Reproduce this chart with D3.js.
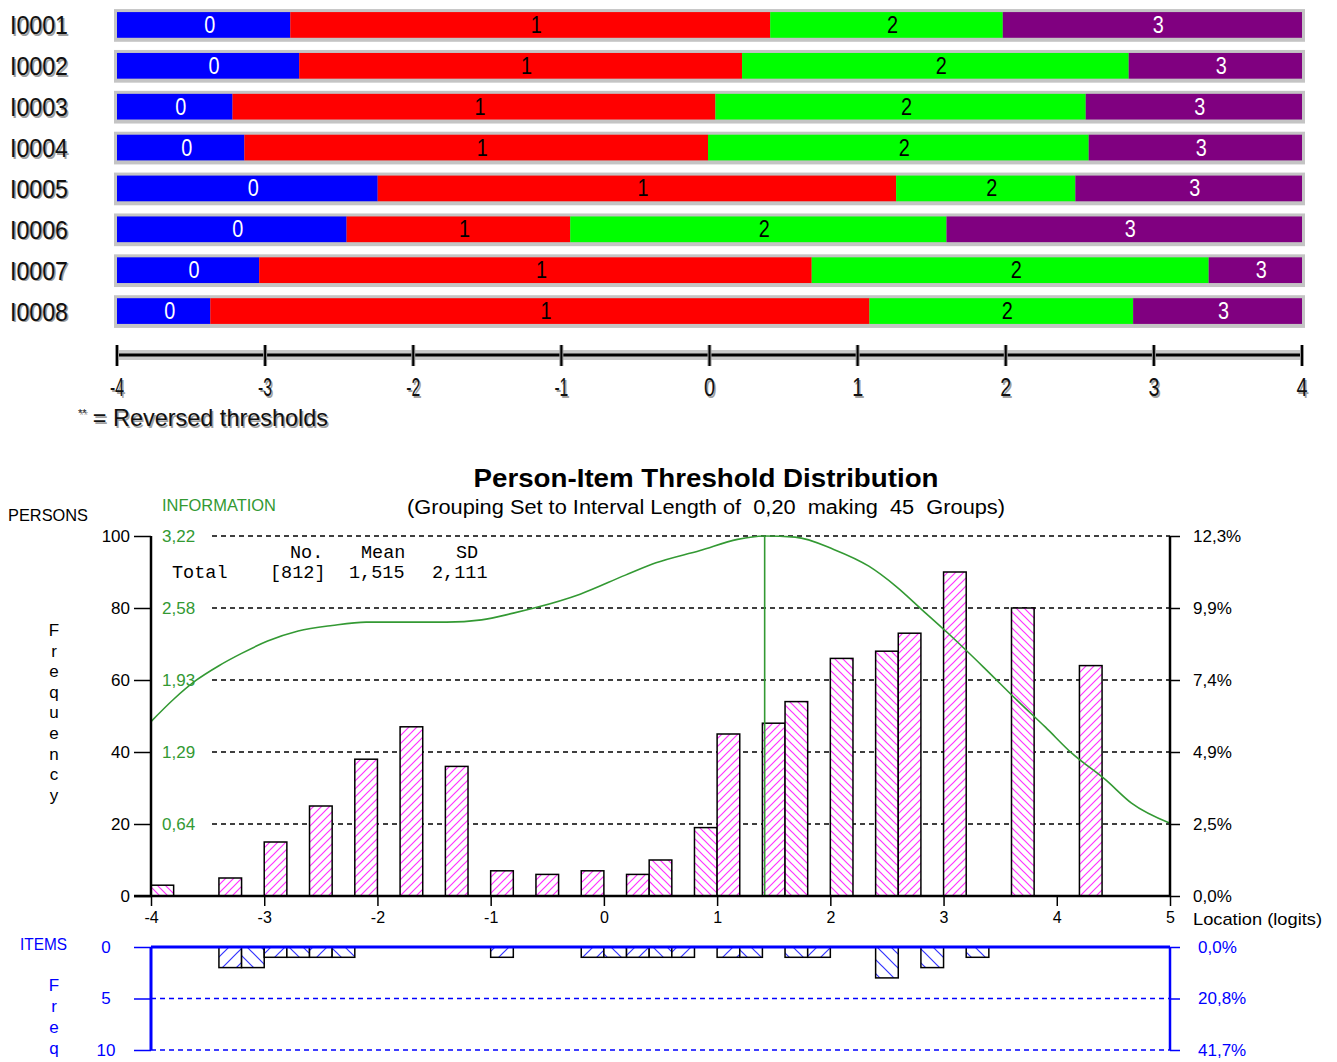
<!DOCTYPE html>
<html>
<head>
<meta charset="utf-8">
<script src="https://cdnjs.cloudflare.com/ajax/libs/d3/7.8.5/d3.min.js"></script>
<style>
  body { margin: 0; background: #fff; }
  svg { display: block; }
  .narrow { font-family: 'Liberation Sans Narrow', 'Arial Narrow', 'Liberation Sans', sans-serif; }
  .sans { font-family: 'Liberation Sans', Arial, sans-serif; }
  .mono { font-family: 'Liberation Mono', 'Courier New', monospace; }
  .pre { white-space: pre; }
</style>
</head>
<body>
<svg id="chart"></svg>
<script>
// ---- data: item threshold map ----
const items = ["I0001", "I0002", "I0003", "I0004", "I0005", "I0006", "I0007", "I0008"];
const categories = ["0", "1", "2", "3"];
const thresholds = [
  [-2.83, 0.41, 1.98],
  [-2.77, 0.22, 2.83],
  [-3.22, 0.04, 2.54],
  [-3.14, -0.01, 2.56],
  [-2.24, 1.26, 2.47],
  [-2.45, -0.94, 1.60],
  [-3.04, 0.69, 3.37],
  [-3.37, 1.08, 2.86]
];
const mapTicks = [-4, -3, -2, -1, 0, 1, 2, 3, 4];

// ---- data: person-item distribution ----
const personBins   = [-4.0, -3.4, -3.0, -2.6, -2.2, -1.8, -1.4, -1.0, -0.6, -0.2, 0.2, 0.4, 0.8, 1.0, 1.4, 1.6, 2.0, 2.4, 2.6, 3.0, 3.6, 4.2];
const personCounts = [3, 5, 15, 25, 38, 47, 36, 7, 6, 7, 6, 10, 19, 45, 48, 54, 66, 68, 73, 90, 80, 64];
const itemBins   = [-3.4, -3.2, -3.0, -2.8, -2.6, -2.4, -1.0, -0.2, 0.0, 0.2, 0.4, 0.6, 1.0, 1.2, 1.6, 1.8, 2.4, 2.8, 3.2];
const itemCounts = [2, 2, 1, 1, 1, 1, 1, 1, 1, 1, 1, 1, 1, 1, 1, 1, 3, 2, 1];
const infoLoc = [-4.0, -3.8, -3.6, -3.4, -3.2, -2.97, -2.7, -2.4, -2.1, -1.8, -1.39, -1.08, -0.8, -0.6, -0.21, 0.19, 0.46, 0.85, 1.18, 1.42, 1.69, 2.03, 2.34, 2.58, 2.81, 3.04, 3.35, 3.65, 3.9, 4.13, 4.43, 4.66, 5.0];
const infoVal = [1.56, 1.76, 1.93, 2.06, 2.17, 2.28, 2.37, 2.42, 2.45, 2.45, 2.45, 2.47, 2.53, 2.58, 2.70, 2.87, 2.98, 3.09, 3.19, 3.22, 3.21, 3.10, 2.95, 2.77, 2.56, 2.35, 2.05, 1.75, 1.51, 1.28, 1.04, 0.83, 0.65];
const infoPeak = 1.42;
const infoMax = 3.22;
const personTotal = 812;
const itemTotal = 24;
const xTicks = [-4, -3, -2, -1, 0, 1, 2, 3, 4, 5];
const personTicks = [0, 20, 40, 60, 80, 100];
const itemTicks = [0, 5, 10];
const statsHead = ["No.", "Mean", "SD"];
const statsRow = ["Total", "[812]", "1,515", "2,111"];

const W = 1337;
const H = 1062;
const catColors = ["#0000ff", "#ff0000", "#00ff00", "#800080"];
const catText = ["#ffffff", "#000000", "#000000", "#ffffff"];
const GREEN = "#339933";
const BLUE = "#0000ff";

const svg = d3.select("#chart").attr("width", W).attr("height", H);
const defs = svg.append("defs");

function hatch(id, color, dir, s, sw) {
  const p = defs.append("pattern").attr("id", id)
    .attr("patternUnits", "userSpaceOnUse").attr("width", s).attr("height", s);
  p.append("rect").attr("width", s).attr("height", s).attr("fill", "#fff");
  const d = dir === "/"
    ? `M-1,1 l2,-2 M0,${s} l${s},${-s} M${s - 1},${s + 1} l2,-2`
    : `M-1,${s - 1} l2,2 M0,0 l${s},${s} M${s - 1},-1 l2,2`;
  p.append("path").attr("d", d).attr("stroke", color).attr("stroke-width", sw);
}
hatch("pinkF", "#ff33ff", "/", 8, 1.2);
hatch("pinkB", "#ff33ff", "\\", 8, 1.2);
hatch("blueF", "#3333ff", "/", 14, 1.2);
hatch("blueB", "#3333ff", "\\", 14, 1.2);

// narrow look: squeeze text to ~0.45em per char
const narrowLen = (s, fs) => s.length * fs * 0.46;

// =========================
// 1) threshold map
// =========================
const xm = d3.scaleLinear().domain([-4, 4]).range([117, 1302]);
const ym = d3.scaleBand().domain(items).range([5, 332]).paddingInner(0.2).paddingOuter(0.1);

const rows = svg.append("g").selectAll("g.row")
  .data(items.map((name, i) => ({ name, b: [-4, ...thresholds[i], 4] })))
  .enter().append("g").attr("class", "row")
  .attr("transform", d => `translate(0,${ym(d.name)})`);

const bh = ym.bandwidth();
rows.append("rect")
  .attr("x", xm(-4) - 3).attr("y", 0)
  .attr("width", xm(4) - xm(-4) + 6).attr("height", bh)
  .attr("fill", "#c4c4c4");

rows.each(function (d) {
  const g = d3.select(this);
  categories.forEach((c, k) => {
    const x0 = xm(d.b[k]), x1 = xm(d.b[k + 1]);
    g.append("rect").attr("x", x0).attr("y", 3)
      .attr("width", x1 - x0).attr("height", bh - 7)
      .attr("fill", catColors[k]);
    g.append("text").attr("class", "narrow")
      .attr("x", (x0 + x1) / 2 + 6).attr("y", bh / 2 - 1)
      .attr("text-anchor", "middle").attr("dominant-baseline", "central")
      .attr("font-size", 24).attr("fill", catText[k])
      .attr("textLength", narrowLen(c, 24)).attr("lengthAdjust", "spacingAndGlyphs")
      .text(c);
  });
});

// item names (with grey shadow)
[["#a0a0a0", 1.5], ["#111", 0]].forEach(([col, off]) => {
  rows.append("text").attr("class", "narrow")
    .attr("x", 10 + off).attr("y", bh / 2 + off)
    .attr("dominant-baseline", "central")
    .attr("font-size", 25).attr("fill", col)
    .attr("textLength", 58).attr("lengthAdjust", "spacingAndGlyphs")
    .text(d => d.name);
});

// map axis
const axY = 355;
svg.append("rect").attr("x", xm(-4)).attr("y", axY - 5)
  .attr("width", xm(4) - xm(-4)).attr("height", 10).attr("fill", "#c8c8c8");
svg.append("line").attr("x1", xm(-4)).attr("x2", xm(4))
  .attr("y1", axY).attr("y2", axY).attr("stroke", "#000").attr("stroke-width", 3);
const mt = svg.append("g").selectAll("g").data(mapTicks).enter().append("g")
  .attr("transform", d => `translate(${xm(d)},0)`);
mt.append("line").attr("y1", 345).attr("y2", 366).attr("stroke", "#999").attr("stroke-width", 4);
mt.append("line").attr("y1", 345).attr("y2", 366).attr("stroke", "#000").attr("stroke-width", 2);
[["#a0a0a0", 1.5], ["#111", 0]].forEach(([col, off]) => {
  mt.append("text").attr("class", "narrow")
    .attr("x", off).attr("y", 396 + off)
    .attr("text-anchor", "middle").attr("font-size", 25).attr("fill", col)
    .attr("textLength", d => d < 0 ? 14 : 11).attr("lengthAdjust", "spacingAndGlyphs")
    .text(d => String(d));
});
[["#a0a0a0", 1.5], ["#111", 0]].forEach(([col, off]) => {
  const t = svg.append("text").attr("class", "narrow")
    .attr("x", 78 + off).attr("y", 426 + off).attr("font-size", 24).attr("fill", col)
    .attr("textLength", 250).attr("lengthAdjust", "spacingAndGlyphs");
  t.append("tspan").attr("font-size", 11).attr("dy", -9).text("**");
  t.append("tspan").attr("dy", 9).text(" = Reversed thresholds");
});

// =========================
// 2) person-item distribution
// =========================
const x = d3.scaleLinear().domain([-4, 5]).range([151, 1170]);
const y = d3.scaleLinear().domain([0, 100]).range([896, 536]);
const yInfo = d3.scaleLinear().domain([0, infoMax]).range([896, 536]);
const yItem = d3.scaleLinear().domain([0, 10]).range([947, 1050]);
const binW = 0.2;
const binIdx = b => Math.round((b + 4) / binW);

svg.append("text").attr("class", "sans")
  .attr("x", 706).attr("y", 487).attr("text-anchor", "middle")
  .attr("font-size", 25).attr("font-weight", "bold")
  .attr("textLength", 465).attr("lengthAdjust", "spacingAndGlyphs")
  .text("Person-Item Threshold Distribution");
svg.append("text").attr("class", "sans pre")
  .attr("x", 706).attr("y", 514).attr("text-anchor", "middle")
  .attr("font-size", 20).attr("textLength", 598).attr("lengthAdjust", "spacingAndGlyphs")
  .text("(Grouping Set to Interval Length of  0,20  making  45  Groups)");
svg.append("text").attr("class", "sans")
  .attr("x", 8).attr("y", 521).attr("font-size", 17)
  .attr("textLength", 80).attr("lengthAdjust", "spacingAndGlyphs").text("PERSONS");
svg.append("text").attr("class", "sans")
  .attr("x", 162).attr("y", 511).attr("font-size", 16).attr("fill", GREEN)
  .attr("textLength", 114).attr("lengthAdjust", "spacingAndGlyphs")
  .text("INFORMATION");

// vertical "Frequency"
svg.append("g").selectAll("text").data("Frequency".split("")).enter().append("text")
  .attr("class", "sans").attr("x", 54).attr("y", (d, i) => 636 + i * 20.6)
  .attr("text-anchor", "middle").attr("font-size", 17).text(d => d);

// dashed grid
svg.append("g").selectAll("line").data(personTicks.filter(v => v > 0)).enter().append("line")
  .attr("x1", 212).attr("x2", x(5)).attr("y1", d => y(d)).attr("y2", d => y(d))
  .attr("stroke", "#000").attr("stroke-width", 1.5).attr("stroke-dasharray", "5,4");

// info labels
svg.append("g").selectAll("text").data(personTicks.filter(v => v > 0)).enter().append("text")
  .attr("class", "sans").attr("x", 162).attr("y", d => y(d)).attr("dominant-baseline", "central")
  .attr("font-size", 17).attr("fill", GREEN)
  .text(d => (infoMax * d / 100).toFixed(2).replace(".", ","));

// person bars
svg.append("g").selectAll("rect").data(personBins.map((b, i) => ({ b, n: personCounts[i] })))
  .enter().append("rect")
  .attr("x", d => x(d.b)).attr("y", d => y(d.n))
  .attr("width", d => x(d.b + binW) - x(d.b)).attr("height", d => y(0) - y(d.n))
  .attr("fill", d => binIdx(d.b) % 2 ? "url(#pinkF)" : "url(#pinkB)")
  .attr("stroke", "#000").attr("stroke-width", 1.5);

// information curve
const infoPts = infoLoc.map((l, i) => [l, infoVal[i]]);
svg.append("path").datum(infoPts)
  .attr("d", d3.line().x(d => x(d[0])).y(d => yInfo(d[1])).curve(d3.curveMonotoneX))
  .attr("fill", "none").attr("stroke", GREEN).attr("stroke-width", 1.6);
svg.append("line").attr("x1", x(infoPeak)).attr("x2", x(infoPeak))
  .attr("y1", yInfo(infoMax)).attr("y2", y(0)).attr("stroke", GREEN).attr("stroke-width", 1.6);

// left axis
const gl = svg.append("g").attr("transform", `translate(${x(-4)},0)`);
gl.call(d3.axisLeft(y).tickValues(d3.range(0, 101, 5)).tickSize(8).tickFormat(""));
gl.call(d3.axisLeft(y).tickValues(personTicks).tickSize(17).tickPadding(4).tickFormat(d => d));
gl.select(".domain").remove();
gl.selectAll("line").attr("stroke", "#000").attr("stroke-width", 1.5);
gl.selectAll("text").attr("class", "sans").attr("font-size", 17).attr("font-family", null);
gl.append("line").attr("y1", y(0)).attr("y2", y(100)).attr("stroke", "#000").attr("stroke-width", 2.5);

// right axis (% of persons)
const gr = svg.append("g").attr("transform", `translate(${x(5)},0)`);
gr.call(d3.axisRight(y).tickValues(personTicks).tickSize(10).tickPadding(13)
  .tickFormat(d => (d / personTotal * 100).toFixed(1).replace(".", ",") + "%"));
gr.select(".domain").remove();
gr.selectAll("line").attr("stroke", "#000").attr("stroke-width", 1.5);
gr.selectAll("text").attr("font-family", null).attr("class", "sans").attr("font-size", 17);
gr.append("line").attr("y1", y(0)).attr("y2", y(100)).attr("stroke", "#000").attr("stroke-width", 2.5);

// bottom axis
const gb = svg.append("g").attr("transform", `translate(0,${y(0)})`);
gb.call(d3.axisBottom(x).tickValues(xTicks).tickSize(10).tickPadding(6).tickFormat(d => String(d)));
gb.select(".domain").remove();
gb.selectAll("line").attr("stroke", "#000").attr("stroke-width", 1.5);
gb.selectAll("text").attr("font-family", null).attr("class", "sans").attr("font-size", 16);
gb.append("line").attr("x1", x(-4) - 17).attr("x2", x(5)).attr("stroke", "#000").attr("stroke-width", 2.5);
svg.append("text").attr("class", "sans").attr("x", 1193).attr("y", 925)
  .attr("font-size", 17).attr("textLength", 129).attr("lengthAdjust", "spacingAndGlyphs")
  .text("Location (logits)");

// stats block
const sx = [290, 361, 456];
svg.append("g").selectAll("text").data(statsHead).enter().append("text")
  .attr("class", "mono").attr("x", (d, i) => sx[i]).attr("y", 558)
  .attr("font-size", 18.5).text(d => d);
const rx = [172, 270, 349, 432];
svg.append("g").selectAll("text").data(statsRow).enter().append("text")
  .attr("class", "mono").attr("x", (d, i) => rx[i]).attr("y", 578)
  .attr("font-size", 18.5).text(d => d);

// =========================
// 3) items strip
// =========================
svg.append("text").attr("class", "narrow").attr("x", 20).attr("y", 950)
  .attr("font-size", 17).attr("fill", BLUE)
  .attr("textLength", 47).attr("lengthAdjust", "spacingAndGlyphs").text("ITEMS");
svg.append("g").selectAll("text").data("Freq".split("")).enter().append("text")
  .attr("class", "sans").attr("x", 54).attr("y", (d, i) => 991 + i * 21)
  .attr("text-anchor", "middle").attr("font-size", 17).attr("fill", BLUE).text(d => d);

svg.append("g").selectAll("line").data(itemTicks.filter(v => v > 0)).enter().append("line")
  .attr("x1", x(-4)).attr("x2", x(5)).attr("y1", d => yItem(d)).attr("y2", d => yItem(d))
  .attr("stroke", BLUE).attr("stroke-width", 1.5).attr("stroke-dasharray", "5,4");

svg.append("g").selectAll("rect").data(itemBins.map((b, i) => ({ b, n: itemCounts[i] })))
  .enter().append("rect")
  .attr("x", d => x(d.b)).attr("y", yItem(0))
  .attr("width", d => x(d.b + binW) - x(d.b)).attr("height", d => yItem(d.n) - yItem(0))
  .attr("fill", d => binIdx(d.b) % 2 ? "url(#blueF)" : "url(#blueB)")
  .attr("stroke", "#000").attr("stroke-width", 1.5);

svg.append("line").attr("x1", x(-4)).attr("x2", x(5)).attr("y1", yItem(0)).attr("y2", yItem(0))
  .attr("stroke", BLUE).attr("stroke-width", 3);

const il = svg.append("g").attr("transform", `translate(${x(-4)},0)`);
il.call(d3.axisLeft(yItem).tickValues(d3.range(0, 11)).tickSize(8).tickFormat(""));
il.call(d3.axisLeft(yItem).tickValues(itemTicks).tickSize(17).tickPadding(28).tickFormat(d => d));
il.select(".domain").remove();
il.selectAll("line").attr("stroke", BLUE).attr("stroke-width", 1.5);
il.selectAll("text").attr("font-family", null).attr("class", "sans").attr("font-size", 17)
  .attr("fill", BLUE).attr("text-anchor", "middle");
il.append("line").attr("y1", yItem(0)).attr("y2", yItem(10)).attr("stroke", BLUE).attr("stroke-width", 3);

const ir = svg.append("g").attr("transform", `translate(${x(5)},0)`);
ir.call(d3.axisRight(yItem).tickValues(itemTicks).tickSize(10).tickPadding(18)
  .tickFormat(d => (d / itemTotal * 100).toFixed(1).replace(".", ",") + "%"));
ir.select(".domain").remove();
ir.selectAll("line").attr("stroke", BLUE).attr("stroke-width", 1.5);
ir.selectAll("text").attr("font-family", null).attr("class", "sans").attr("font-size", 17).attr("fill", BLUE);
ir.append("line").attr("y1", yItem(0)).attr("y2", yItem(10)).attr("stroke", BLUE).attr("stroke-width", 2.5);
</script>
</body>
</html>
